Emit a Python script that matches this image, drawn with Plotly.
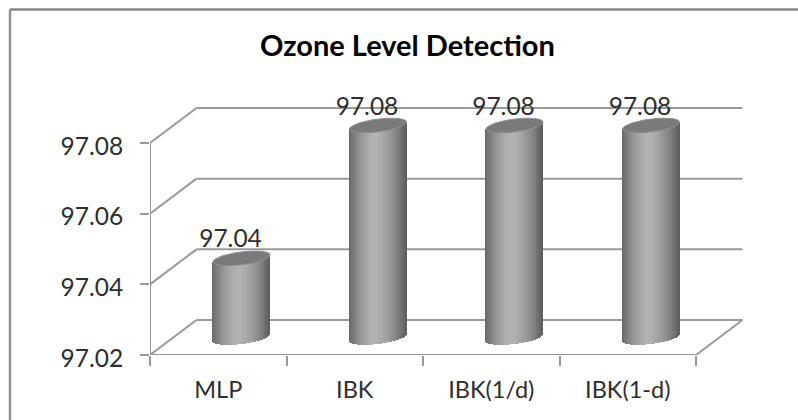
import math
import plotly.graph_objects as go

title = "Ozone Level Detection"
categories = ["MLP", "IBK", "IBK(1/d)", "IBK(1-d)"]
values = [97.0424, 97.08, 97.08, 97.08]
value_labels = ["97.04", "97.08", "97.08", "97.08"]
y_ticks = [97.02, 97.04, 97.06, 97.08]
y_tick_labels = ["97.02", "97.04", "97.06", "97.08"]

W, H = 798, 420
L, R, T, B = 150, 745, 80, 355
PX_PER_X = 136.5
PX_PER_Y = 212 / 0.06
DX = 46.5 / PX_PER_X
DY = 35 / PX_PER_Y
y0 = y_ticks[0]
x_max = (R - L) / PX_PER_X
y_max = y0 + (B - T) / PX_PER_Y
GREY = "#9a9a9a"
INK = "#2e2e2e"

fig = go.Figure()

# cylinder geometry, in axis units
half_w = 28.5 / PX_PER_X
tilt = 3.5 / PX_PER_Y
minor = 6.5 / PX_PER_Y
N = 58


def shade(t):
    # t in [-1, 1], light peak just left of centre
    u = (t + 0.1) / (1.1 if t > -0.1 else 0.9)
    k = abs(u) ** 1.6
    edge = 104 if t < -0.1 else 94
    v = round(178 + (edge - 178) * k)
    return f"rgb({v},{v},{v})"


for i, v in enumerate(values):
    cx = i + 0.5 + DX / 2
    base_c = y0 + DY / 2
    top_c = v + DY / 2
    xs, bases, heights, cols = [], [], [], []
    for s in range(N):
        t = -1 + (s + 0.5) * 2 / N
        root = math.sqrt(max(0, 1 - t * t))
        low = base_c + tilt * t - minor * root
        xs.append(cx + t * half_w)
        bases.append(low)
        heights.append(top_c + tilt * t - low)
        cols.append(shade(t))
    fig.add_trace(go.Bar(x=xs, y=heights, base=bases, width=[2 * half_w / N * 1.25] * N,
                         marker=dict(color=cols, line=dict(width=0)), showlegend=False,
                         hoverinfo="skip"))
    ex, ey = [], []
    for a in range(73):
        th = a * math.pi / 36
        ex.append(cx + half_w * math.cos(th))
        ey.append(top_c + tilt * math.cos(th) + minor * math.sin(th))
    fig.add_trace(go.Scatter(x=ex, y=ey, mode="lines", fill="toself", fillcolor="#7a7a7a",
                             line=dict(color="#8f8f8f", width=1), showlegend=False,
                             hoverinfo="skip"))

# back-wall gridlines go under the cylinders
shapes = []
for tv in y_ticks:
    shapes.append(dict(type="line", layer="below", xref="x", yref="y", x0=DX, x1=4 + DX,
                       y0=tv + DY, y1=tv + DY, line=dict(color=GREY, width=2)))
# outer frame
px = lambda p: (p - L) / (R - L)
py = lambda p: (B - p) / (B - T)
shapes.append(dict(type="line", xref="paper", yref="paper", x0=px(10), x1=px(10),
                   y0=py(H), y1=py(9.5), line=dict(color="#939393", width=2.5)))
shapes.append(dict(type="line", xref="paper", yref="paper", x0=px(10), x1=px(W),
                   y0=py(9.5), y1=py(9.5), line=dict(color="#868686", width=2.5)))

frame_x, frame_y = [0, 0, None, 0, 4, None, 4, 4 + DX, None], [y0, y_ticks[-1], None, y0, y0, None, y0, y0 + DY, None]
for tv in y_ticks:
    frame_x += [0, DX, None]
    frame_y += [tv, tv + DY, None]
fig.add_trace(go.Scatter(x=frame_x, y=frame_y, mode="lines", line=dict(color=GREY, width=2),
                         cliponaxis=False, showlegend=False, hoverinfo="skip"))

fig.add_trace(go.Scatter(x=[i + 0.5 + DX / 2 - 11 / PX_PER_X for i in range(len(values))],
                         y=[v + DY / 2 + 17 / PX_PER_Y for v in values],
                         mode="text", text=value_labels, textposition="middle center",
                         textfont=dict(family="Lato", size=24.5, color=INK),
                         cliponaxis=False, showlegend=False, hoverinfo="skip"))

fig.update_layout(
    width=W, height=H, autosize=False, showlegend=False, bargap=0, barmode="overlay",
    paper_bgcolor="white", plot_bgcolor="white",
    margin=dict(l=L, r=W - R, t=T, b=H - B, pad=0),
    title=dict(text=f"<b>{title}</b>", x=407.5 / W, xanchor="center", y=1 - 46 / H, yanchor="middle",
               font=dict(family="Lato", size=29, color="black")),
    shapes=shapes,
    xaxis=dict(range=[0, x_max], tickvals=[i + 0.5 for i in range(len(categories))], ticktext=categories,
               ticks="", showgrid=False, zeroline=False, showline=False, fixedrange=True,
               ticklabelstandoff=18,
               tickfont=dict(family="Lato", size=23.5, color=INK),
               minor=dict(tickvals=list(range(len(categories) + 1)), ticks="outside", ticklen=10,
                          tickwidth=2, tickcolor=GREY, showgrid=False)),
    yaxis=dict(range=[y0, y_max], tickvals=y_ticks, ticktext=y_tick_labels, ticks="outside", ticklen=9,
               tickwidth=2, tickcolor=GREY, showgrid=False, zeroline=False, showline=False,
               fixedrange=True, ticklabelstandoff=12, ticklabelshift=3,
               tickfont=dict(family="Lato", size=24.5, color=INK)),
)

fig.write_html("out.html", config={"displayModeBar": False},
               post_script="document.body.style.margin='0';")
